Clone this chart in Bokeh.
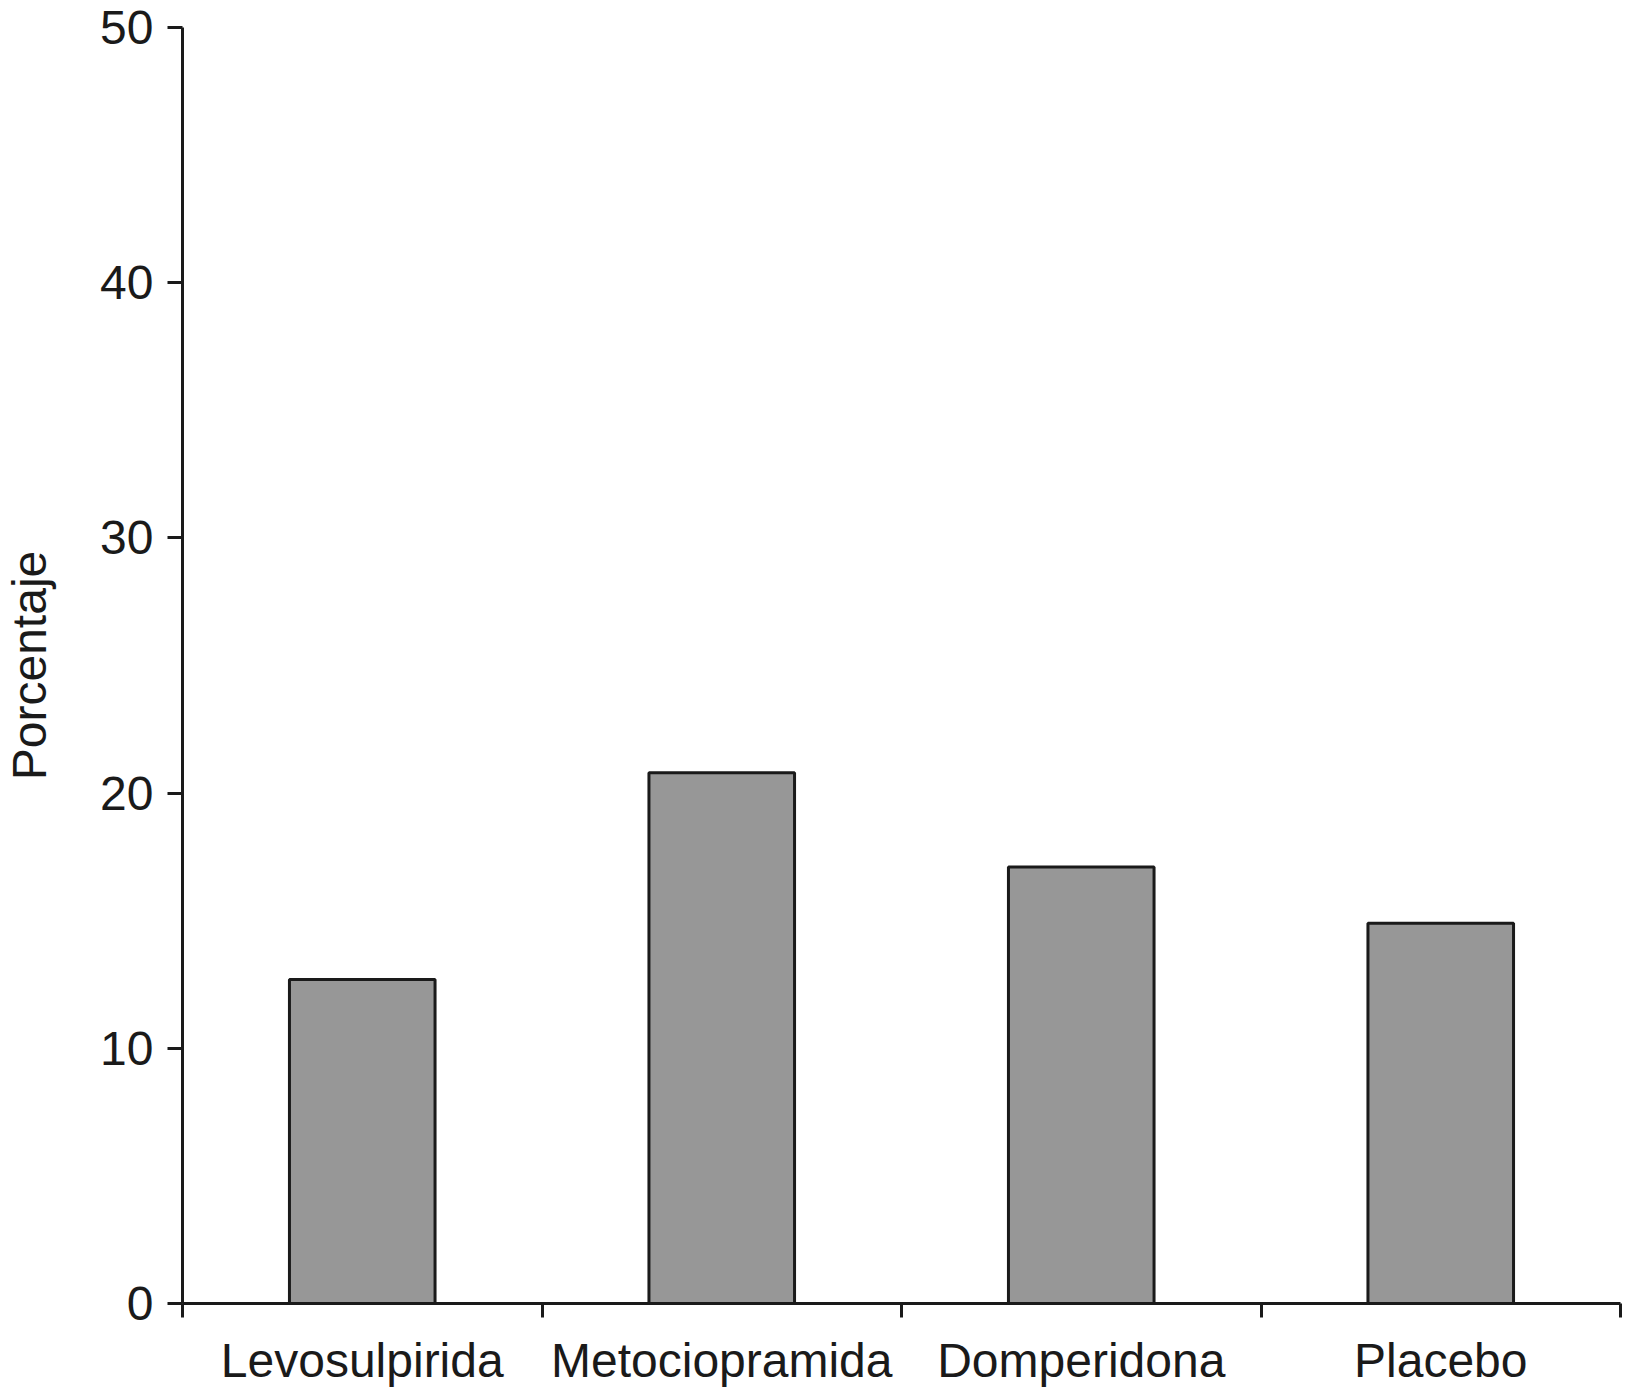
from bokeh.plotting import figure
from bokeh.models import Range1d, FixedTicker, ColumnDataSource
from bokeh.embed import file_html
from bokeh.resources import INLINE

categories = ["Levosulpirida", "Metociopramida", "Domperidona", "Placebo"]
values = [12.7, 20.8, 17.1, 14.9]
y_ticks = [0, 10, 20, 30, 40, 50]

positions = [i + 0.5 for i in range(len(categories))]
boundaries = list(range(len(categories) + 1))

FONT = "Liberation Sans"
INK = "#1a1a1a"
FS = "48px"

p = figure(width=1625, height=1391, output_backend="svg", toolbar_location=None,
           x_range=Range1d(0, len(categories)), y_range=Range1d(0, 50),
           min_border_left=180, min_border_right=5, min_border_top=27, min_border_bottom=88)
p.outline_line_color = None
p.xgrid.visible = False
p.ygrid.visible = False
p.background_fill_color = "white"
p.border_fill_color = "white"

src = ColumnDataSource(dict(x=positions, top=values, cat=categories))
p.vbar(x="x", top="top", bottom=0, width=0.405, source=src,
       fill_color="#979797", line_color=INK, line_width=3)

# x axis
xa = p.xaxis[0]
xa.ticker = FixedTicker(ticks=positions, minor_ticks=boundaries)
xa.major_label_overrides = {pos: c for pos, c in zip(positions, categories)}
xa.major_tick_out = 0
xa.major_tick_in = 0
xa.minor_tick_out = 14
xa.minor_tick_in = 0
xa.minor_tick_line_width = 3
xa.minor_tick_line_color = INK
xa.axis_line_width = 3
xa.axis_line_color = INK
xa.major_label_text_font = FONT
xa.major_label_text_font_size = FS
xa.major_label_text_color = INK
xa.major_label_standoff = 16

# y axis
ya = p.yaxis[0]
ya.ticker = FixedTicker(ticks=y_ticks, minor_ticks=[])
ya.major_tick_out = 15
ya.major_tick_in = 0
ya.major_tick_line_width = 3
ya.major_tick_line_color = INK
ya.axis_line_width = 3
ya.axis_line_color = INK
ya.major_label_text_font = FONT
ya.major_label_text_font_size = FS
ya.major_label_text_color = INK
ya.major_label_standoff = 14
ya.axis_label = "Porcentaje"
ya.axis_label_text_font = FONT
ya.axis_label_text_font_size = FS
ya.axis_label_text_font_style = "normal"
ya.axis_label_text_color = INK
ya.axis_label_standoff = 41

open("out.html", "w").write(file_html(p, INLINE))
